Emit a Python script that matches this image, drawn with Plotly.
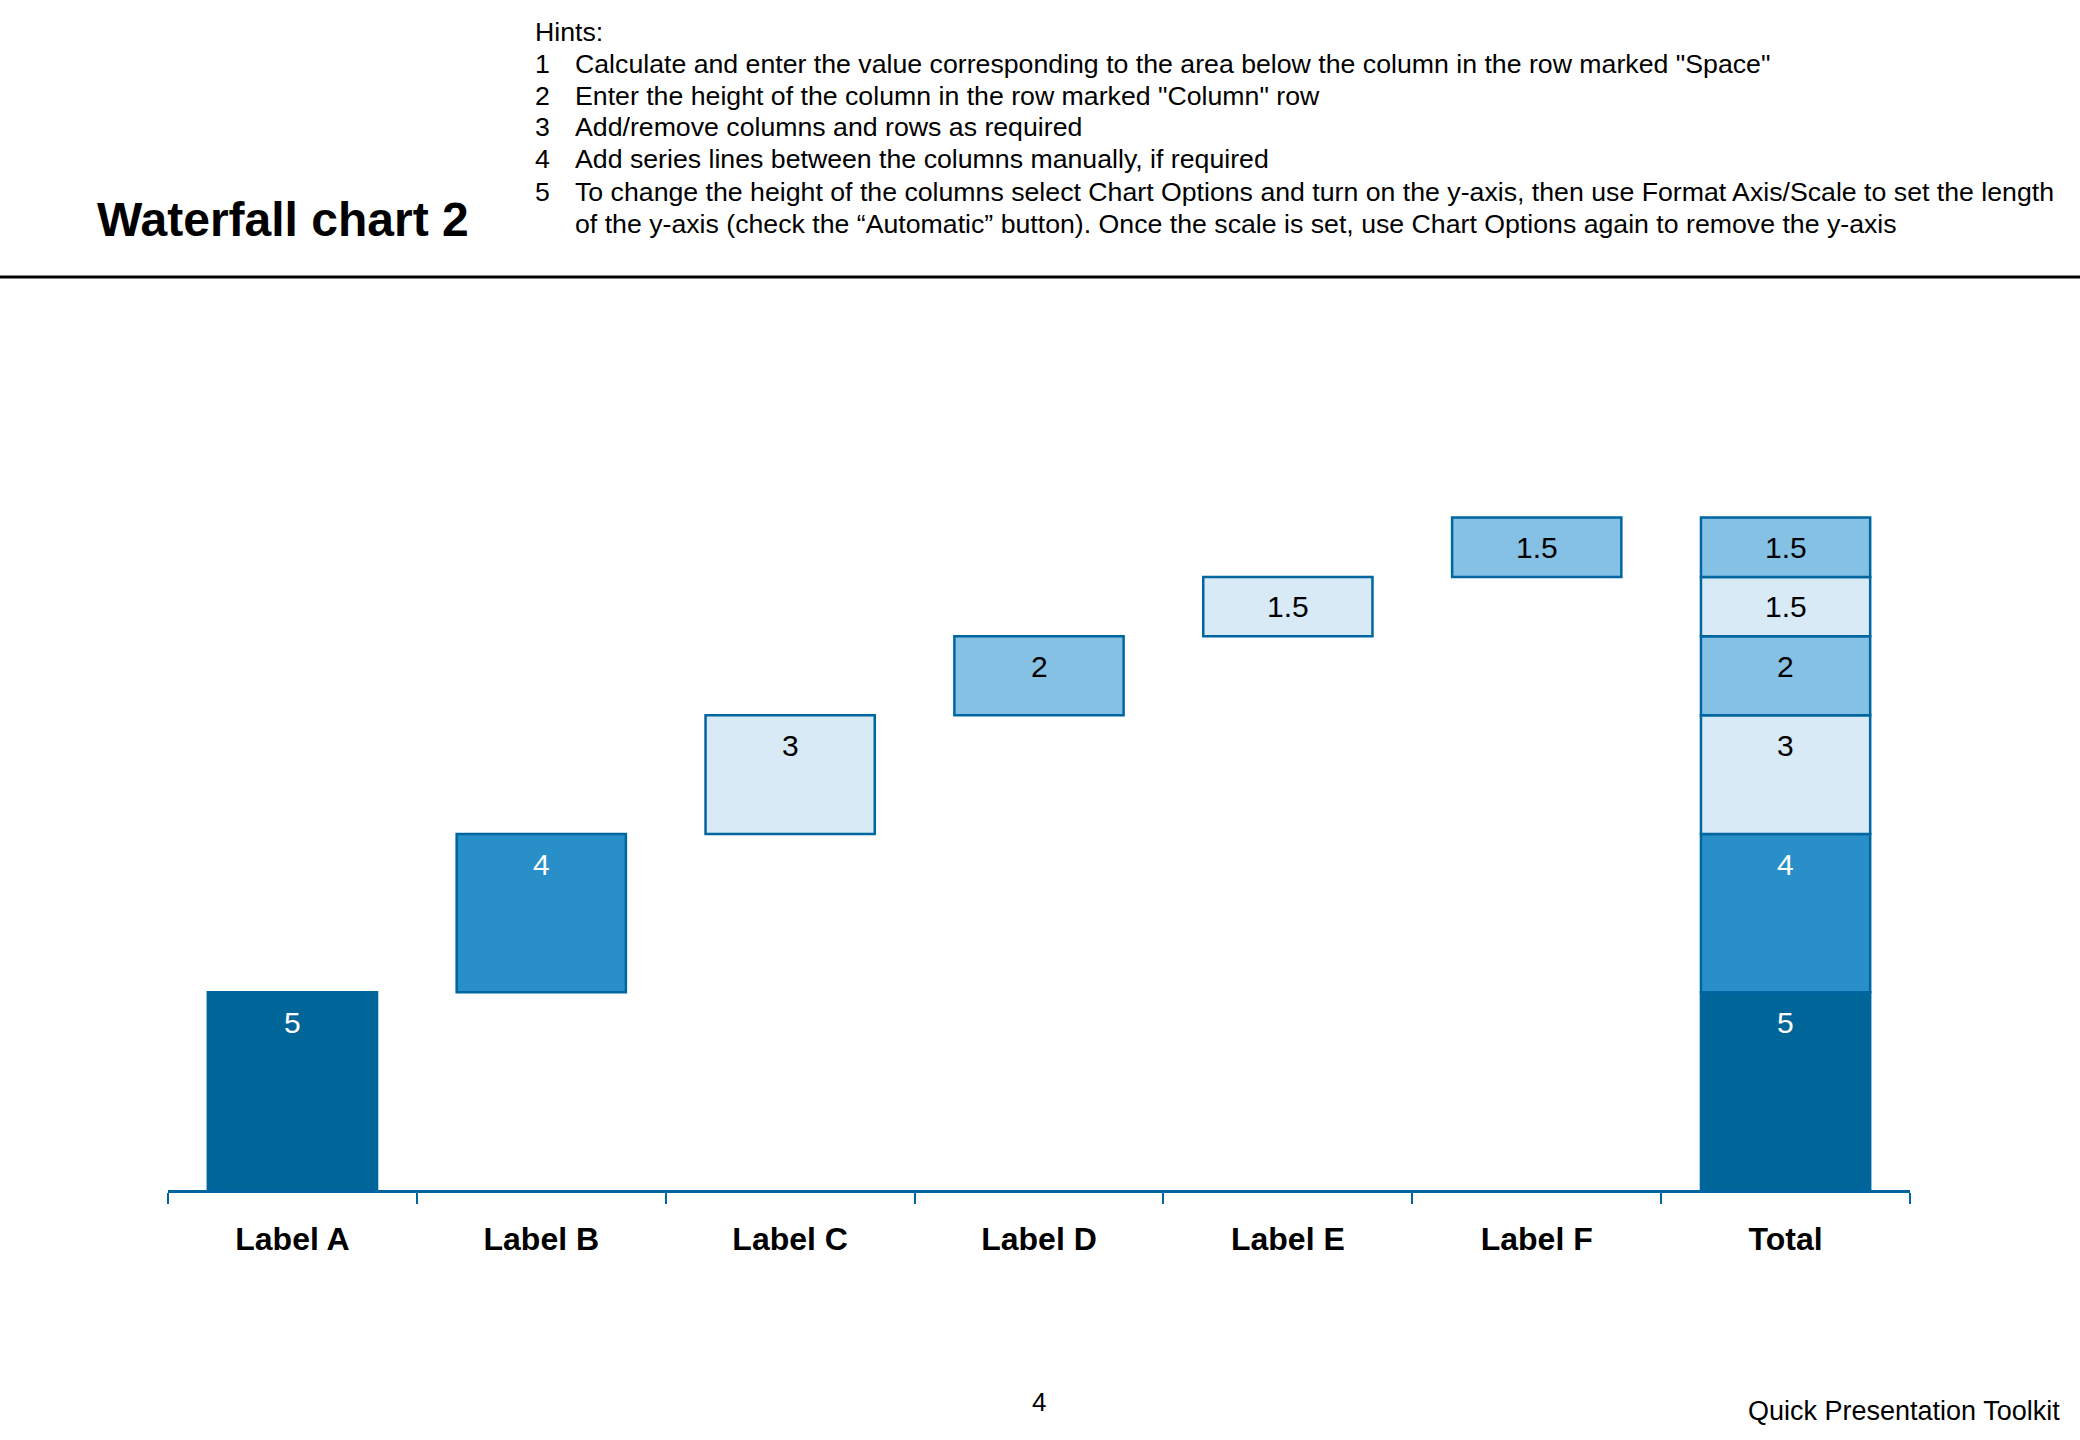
import plotly.graph_objects as go

# ---- data ----
categories = ["Label A", "Label B", "Label C", "Label D", "Label E", "Label F"]
total_label = "Total"
space_values = [0, 5, 9, 12, 14, 15.5]
column_values = [5, 4, 3, 2, 1.5, 1.5]
bar_colors = ["#006699", "#298FC9", "#D7EAF5", "#85C1E4", "#D7EAF5", "#85C1E4"]
text_colors = ["white", "white", "black", "black", "black", "black"]

title_text = "Waterfall chart 2"
hints_header = "Hints:"
hint_numbers = ["1", "2", "3", "4", "5", ""]
hint_lines = [
    "Calculate and enter the value corresponding to the area below the column in the row marked \"Space\"",
    "Enter the height of the column in the row marked \"Column\" row",
    "Add/remove columns and rows as required",
    "Add series lines between the columns manually, if required",
    "To change the height of the columns select Chart Options and turn on the y-axis, then use Format Axis/Scale to set the length",
    "of the y-axis (check the \u201cAutomatic\u201d button). Once the scale is set, use Chart Options again to remove the y-axis",
]
page_number = "4"
footer_text = "Quick Presentation Toolkit"

# ---- layout geometry ----
W, H = 2080, 1440
ML, MR, MT, MB = 168, 170, 395, 250
PW, PH = W - ML - MR, H - MT - MB
FONT = "Arial, Liberation Sans, sans-serif"
BORDER = "#0066A0"


def px(x):
    return (x - ML) / PW


def py(y):
    return 1 - (y - MT) / PH


def fmt(v):
    return ("%g" % v)


fig = go.Figure()
all_cats = categories + [total_label]
for i, cat in enumerate(categories):
    fig.add_trace(go.Bar(
        x=[cat, total_label],
        y=[column_values[i], column_values[i]],
        base=[space_values[i], space_values[i]],
        width=0.68,
        marker=dict(color=bar_colors[i], line=dict(color=BORDER, width=2.5)),
        showlegend=False,
        hoverinfo="skip",
    ))

annotations = []
for i, cat in enumerate(categories):
    top = space_values[i] + column_values[i]
    for xc in (cat, total_label):
        annotations.append(dict(
            x=xc, y=top, xref="x", yref="y", text=fmt(column_values[i]),
            showarrow=False, yshift=-30, yanchor="middle",
            font=dict(family=FONT, size=30, color=text_colors[i]),
        ))

# Hints block
hint_fs = 26.7
annotations.append(dict(x=px(533), y=py(32), xref="paper", yref="paper", text=hints_header,
                        showarrow=False, xanchor="left", yanchor="middle",
                        font=dict(family=FONT, size=hint_fs, color="black")))
hint_y = [63.7, 95.5, 127.3, 159.2, 192.3, 224.2]
for num, line, yy in zip(hint_numbers, hint_lines, hint_y):
    if num:
        annotations.append(dict(x=px(533), y=py(yy), xref="paper", yref="paper", text=num,
                                showarrow=False, xanchor="left", yanchor="middle",
                                font=dict(family=FONT, size=hint_fs, color="black")))
    annotations.append(dict(x=px(573), y=py(yy), xref="paper", yref="paper", text=line,
                            showarrow=False, xanchor="left", yanchor="middle",
                            font=dict(family=FONT, size=hint_fs, color="black")))

# footer
annotations.append(dict(x=px(1039), y=py(1402), xref="paper", yref="paper", text=page_number,
                        showarrow=False, xanchor="center", yanchor="middle",
                        font=dict(family=FONT, size=26, color="black")))
annotations.append(dict(x=px(2062), y=py(1411), xref="paper", yref="paper", text=footer_text,
                        showarrow=False, xanchor="right", yanchor="middle",
                        font=dict(family=FONT, size=27, color="black")))

fig.update_layout(
    width=W, height=H,
    margin=dict(l=ML, r=MR, t=MT, b=MB, autoexpand=False),
    paper_bgcolor="white", plot_bgcolor="white",
    barmode="overlay",
    title=dict(text="<b>" + title_text + "</b>", x=97 / W, xanchor="left", xref="container",
               y=1 - 219 / H, yanchor="middle", yref="container",
               font=dict(family=FONT, size=48, color="black")),
    xaxis=dict(
        categoryorder="array", categoryarray=all_cats,
        tickmode="array", tickvals=all_cats, ticktext=["<b>" + c + "</b>" for c in all_cats],
        range=[-0.5, len(all_cats) - 0.5],
        showline=True, linecolor=BORDER, linewidth=2.5,
        ticks="outside", ticklen=11, tickwidth=2, tickcolor=BORDER,
        tickson="boundaries", ticklabelstandoff=19,
        showgrid=False, zeroline=False,
        tickfont=dict(family=FONT, size=32, color="black"),
        fixedrange=True,
    ),
    yaxis=dict(range=[0, 20.1], visible=False, showgrid=False, zeroline=False, fixedrange=True),
    annotations=annotations,
    shapes=[dict(type="line", xref="paper", yref="paper", x0=px(0), x1=px(W), y0=py(277), y1=py(277),
                 line=dict(color="black", width=3))],
)

fig.write_html(
    "out.html",
    config={"displayModeBar": False},
    post_script="document.body.style.margin='0';document.body.style.overflow='hidden';",
)
